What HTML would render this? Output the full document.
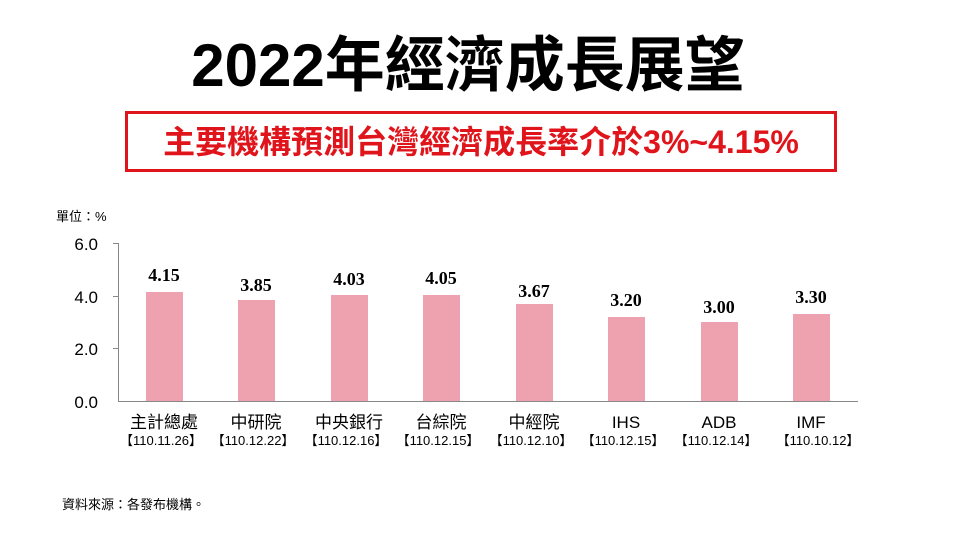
<!DOCTYPE html>
<html><head><meta charset="utf-8"><style>
body{margin:0;width:960px;height:540px;background:#fff;position:relative;overflow:hidden;font-family:"Liberation Sans","Noto Sans CJK TC",sans-serif}
.t{position:absolute;white-space:nowrap}
</style></head><body>
<div class="t" style="left:0;width:936px;top:31px;text-align:center;font-size:60px;font-weight:bold;color:#000;line-height:70px">2022年經濟成長展望</div>
<div style="position:absolute;left:125px;top:111px;width:706px;height:55px;border:3px solid #e0141b"></div>
<div class="t" style="left:125px;width:712px;top:118px;text-align:center;font-size:32px;font-weight:bold;color:#e0141b;line-height:48px">主要機構預測台灣經濟成長率介於3%~4.15%</div>
<div class="t" style="left:56px;top:206px;font-size:13px">單位：%</div>
<svg style="position:absolute;left:0;top:0" width="960" height="540">
<g stroke="#888" stroke-width="1">
<line x1="118.5" y1="243" x2="118.5" y2="401"/>
<line x1="118" y1="401.5" x2="858" y2="401.5"/>
<line x1="113" y1="243.5" x2="118" y2="243.5"/>
<line x1="113" y1="296.5" x2="118" y2="296.5"/>
<line x1="113" y1="348.5" x2="118" y2="348.5"/>
</g>
<g font-family="Liberation Sans,sans-serif" font-size="17" text-anchor="end" fill="#000">
<text x="98" y="250">6.0</text><text x="98" y="303">4.0</text><text x="98" y="355">2.0</text><text x="98" y="408">0.0</text>
</g>
<g fill="#eea1ae">
<rect x="146" y="292" width="37" height="109"/>
<rect x="238" y="300" width="37" height="101"/>
<rect x="331" y="295" width="37" height="106"/>
<rect x="423" y="295" width="37" height="106"/>
<rect x="516" y="304" width="37" height="97"/>
<rect x="608" y="317" width="37" height="84"/>
<rect x="701" y="322" width="37" height="79"/>
<rect x="793" y="314" width="37" height="87"/>
</g>
<g font-family="Liberation Serif,serif" font-size="18" font-weight="bold" text-anchor="middle">
<text x="164" y="281">4.15</text><text x="256" y="291">3.85</text><text x="349" y="285">4.03</text><text x="441" y="284">4.05</text>
<text x="534" y="297">3.67</text><text x="626" y="306">3.20</text><text x="719" y="313">3.00</text><text x="811" y="303">3.30</text>
</g>
<g font-family="Liberation Sans,Noto Sans CJK TC,sans-serif" font-size="17" text-anchor="middle">
<text x="164" y="428">主計總處</text><text x="256" y="428">中研院</text><text x="349" y="428">中央銀行</text><text x="441" y="428">台綜院</text>
<text x="534" y="428">中經院</text><text x="626" y="428">IHS</text><text x="719" y="428">ADB</text><text x="811" y="428">IMF</text>
</g>
<g font-family="Liberation Sans,Noto Sans CJK TC,sans-serif" font-size="13" text-anchor="middle">
<text x="161" y="445">【110.11.26】</text><text x="253" y="445">【110.12.22】</text><text x="346" y="445">【110.12.16】</text><text x="438" y="445">【110.12.15】</text>
<text x="531" y="445">【110.12.10】</text><text x="623" y="445">【110.12.15】</text><text x="716" y="445">【110.12.14】</text><text x="818" y="445">【110.10.12】</text>
</g>
</svg>
<div class="t" style="left:62px;top:494px;font-size:13px">資料來源：各發布機構。</div>
</body></html>
